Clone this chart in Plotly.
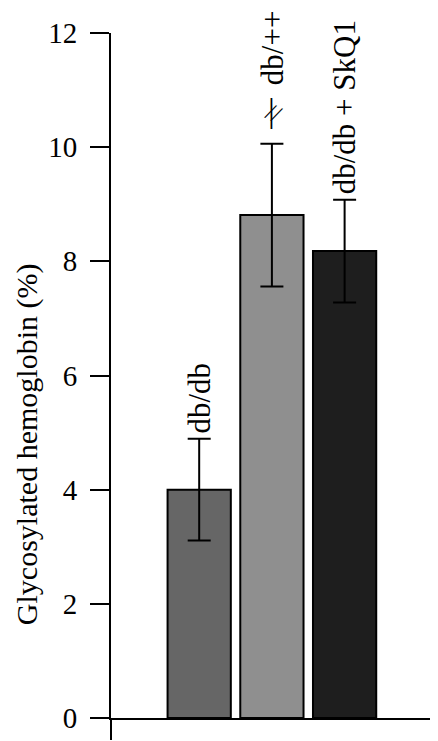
import plotly.graph_objects as go

categories = ["db/db", "db/++", "db/db + SkQ1"]
values = [4.0, 8.81, 8.18]
errors = [0.89, 1.25, 0.90]
colors = ["#666666", "#8f8f8f", "#1e1e1e"]
y_ticks = [0, 2, 4, 6, 8, 10, 12]

FONT = "Liberation Serif"
positions = [i + 1 for i in range(len(categories))]
x_range = [-0.213, 4.257]

fig = go.Figure()
fig.add_trace(go.Bar(
    x=positions, y=values, width=0.87,
    marker=dict(color=colors, line=dict(color="black", width=2)),
    error_y=dict(type="data", array=errors, visible=True,
                 color="black", thickness=2, width=11.5),
    showlegend=False,
))

# rotated labels above each error bar
for p, v, e, c in zip(positions, values, errors, categories):
    shift = 3
    if c == "db/++":
        shift = 57
    fig.add_annotation(x=p, y=v + e, xref="x", yref="y", text=c,
                       textangle=-90, showarrow=False, yanchor="bottom",
                       xanchor="center", yshift=shift,
                       font=dict(family=FONT, size=31, color="black"))

# significance marker over db/++
fig.add_annotation(x=positions[1], y=values[1] + errors[1], xref="x", yref="y",
                   text="|", showarrow=False, yanchor="middle", xanchor="center",
                   yshift=33, font=dict(family=FONT, size=34, color="black"))
fig.add_annotation(x=positions[1], y=values[1] + errors[1], xref="x", yref="y",
                   text="//", showarrow=False, yanchor="middle", xanchor="center",
                   yshift=31, xshift=2, textangle=25,
                   font=dict(family=FONT, size=24, color="black"))

# y-axis title
fig.add_annotation(x=-0.258, y=0.40, xref="paper", yref="paper",
                   text="Glycosylated hemoglobin (%)", textangle=-90,
                   showarrow=False, xanchor="center", yanchor="middle",
                   font=dict(family=FONT, size=30, color="black"))

fig.update_layout(
    width=430, height=733,
    margin=dict(l=103, r=2, t=25, b=23),
    paper_bgcolor="white", plot_bgcolor="white",
    font=dict(family=FONT, size=29, color="black"),
    xaxis=dict(range=x_range, showgrid=False, zeroline=False,
               showline=True, linecolor="black", linewidth=2,
               ticks="outside", ticklen=20, tickwidth=2, tickcolor="black",
               tickvals=x_range, showticklabels=False),
    yaxis=dict(range=[0, 12], showgrid=False, zeroline=False,
               showline=True, linecolor="black", linewidth=2,
               ticks="outside", ticklen=19, tickwidth=2, tickcolor="black",
               tickvals=y_ticks, ticklabelstandoff=7,
               tickfont=dict(family=FONT, size=29, color="black")),
)

fig.write_html("out.html")
